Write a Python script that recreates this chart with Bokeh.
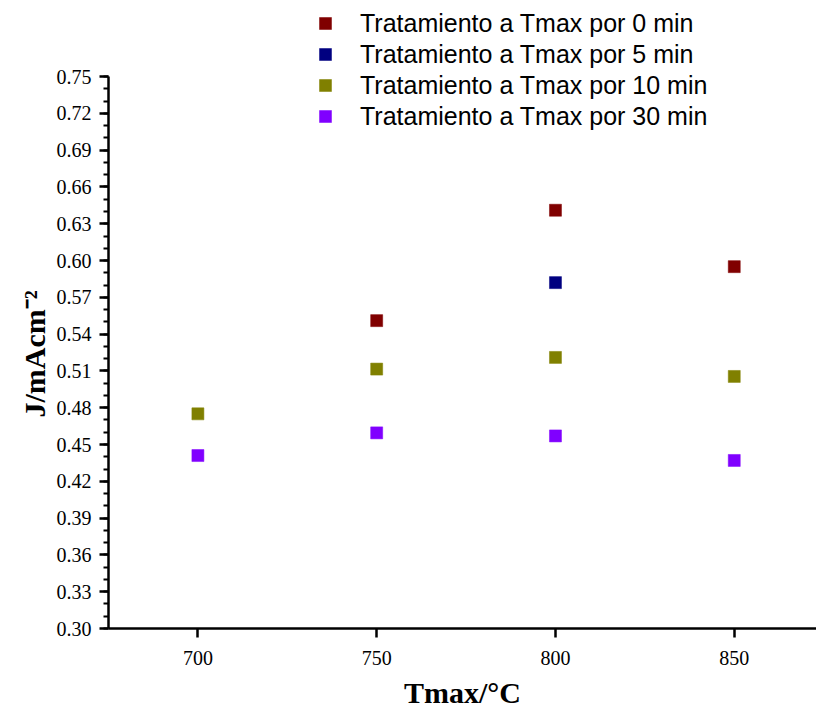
from bokeh.plotting import figure
from bokeh.models import Range1d, FixedTicker, Legend, LegendItem, NumeralTickFormatter, Title
from bokeh.embed import file_html
from bokeh.resources import INLINE

# Data
t_0min = [750, 800, 850]
j_0min = [0.551, 0.641, 0.595]
t_5min = [800]
j_5min = [0.582]
t_10min = [700, 750, 800, 850]
j_10min = [0.475, 0.5115, 0.521, 0.5055]
t_30min = [700, 750, 800, 850]
j_30min = [0.441, 0.4595, 0.457, 0.437]

series_labels = ["Tratamiento a Tmax por 0 min", "Tratamiento a Tmax por 5 min",
                 "Tratamiento a Tmax por 10 min", "Tratamiento a Tmax por 30 min"]
colors = ["#800000", "#000080", "#808000", "#8000FF"]

x_ticks = [700, 750, 800, 850]
y_ticks = [round(0.30 + 0.03 * i, 2) for i in range(16)]
y_minor = [round(0.30 + 0.01 * i, 2) for i in range(46)]

# frame reaches the top of the canvas so the legend is not clipped;
# the visible y axis is limited to 0.30-0.75 with bounds
p = figure(width=816, height=713, output_backend="svg", toolbar_location=None,
           x_range=Range1d(675, 873), y_range=Range1d(0.30, 0.812),
           min_border_left=108, min_border_right=0, min_border_top=0, min_border_bottom=85)
p.xgrid.visible = False
p.ygrid.visible = False
p.outline_line_color = None
p.background_fill_color = "white"

rs = []
for xs, ys, c in [(t_0min, j_0min, colors[0]), (t_5min, j_5min, colors[1]),
                  (t_10min, j_10min, colors[2]), (t_30min, j_30min, colors[3])]:
    r = p.scatter(xs, ys, marker="square", size=12, fill_color=c, line_color=c, line_width=0.5)
    rs.append(r)

serif = "Liberation Serif"

xa = p.xaxis[0]
xa.ticker = FixedTicker(ticks=x_ticks)
xa.axis_line_width = 2.5
xa.major_tick_line_width = 2.5
xa.major_tick_out = 9
xa.major_tick_in = 0
xa.minor_tick_line_color = None
xa.major_label_text_font = serif
xa.major_label_text_font_size = "20px"
xa.major_label_text_color = "black"
xa.major_label_standoff = 13
xa.axis_label = "Tmax/°C"
xa.axis_label_text_font = serif
xa.axis_label_text_font_size = "30px"
xa.axis_label_text_font_style = "bold"
xa.axis_label_text_color = "black"
xa.axis_label_standoff = 8

ya = p.yaxis[0]
ya.bounds = (0.30, 0.75)
ya.ticker = FixedTicker(ticks=y_ticks, minor_ticks=y_minor)
ya.formatter = NumeralTickFormatter(format="0.00")
ya.axis_line_width = 2.5
ya.major_tick_line_width = 2.5
ya.major_tick_out = 9
ya.major_tick_in = 0
ya.minor_tick_line_width = 2
ya.minor_tick_out = 5
ya.minor_tick_in = 0
ya.major_label_text_font = serif
ya.major_label_text_font_size = "20px"
ya.major_label_text_color = "black"
ya.major_label_standoff = 8

ylab = Title(text="J/mAcm\u207b\u00b2", align="left", offset=211,
             text_font=serif, text_font_size="30px", text_font_style="bold",
             text_color="black", standoff=6)
p.add_layout(ylab, "left")

legend = Legend(items=[LegendItem(label=l, renderers=[r]) for l, r in zip(series_labels, rs)],
                location=(202, 497), orientation="vertical",
                glyph_width=30, glyph_height=30, label_height=30, spacing=1,
                label_standoff=20, padding=0, margin=0,
                label_text_font="Liberation Sans", label_text_font_size="25px",
                label_text_color="black",
                border_line_alpha=0, background_fill_alpha=0)
p.add_layout(legend, "center")

open("out.html", "w").write(file_html(p, INLINE))
